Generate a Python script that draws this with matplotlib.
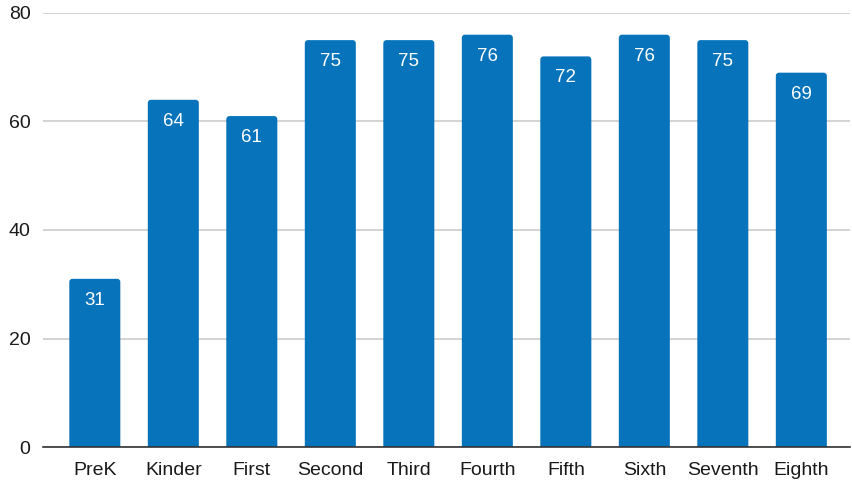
import matplotlib
matplotlib.use("Agg")
import matplotlib.pyplot as plt
from matplotlib.patches import FancyBboxPatch

categories = ["PreK", "Kinder", "First", "Second", "Third", "Fourth", "Fifth", "Sixth", "Seventh", "Eighth"]
values = [31, 64, 61, 75, 75, 76, 72, 76, 75, 69]
yticks = [0, 20, 40, 60, 80]

plt.rcParams['font.family'] = ['Liberation Sans', 'DejaVu Sans']
fig = plt.figure(figsize=(8.52, 4.82), dpi=100)
ax = fig.add_axes([43/852, 35/482, (850-43)/852, (447-13)/482])

color = "#0673BA"
ax.set_ylim(0, 80)
ax.set_xlim(-0.66, 9.62)
bars = ax.bar(range(len(categories)), values, width=0.65, color=color, zorder=3)

# rounded top corners
ax_w_px = (850 - 43)
ax_h_px = (447 - 13)
aspect = (80 / ax_h_px) / ((9.62 + 0.66) / ax_w_px)
for b in bars:
    b.set_visible(False)
    p = FancyBboxPatch((b.get_x(), -3), b.get_width(), b.get_height() + 3,
                       boxstyle="round,pad=0,rounding_size=0.04",
                       mutation_aspect=aspect, facecolor=color, edgecolor="none",
                       zorder=3, clip_on=True)
    ax.add_patch(p)

for i, v in enumerate(values):
    ax.annotate(str(v), (i, v), xytext=(0, -15.5), textcoords="offset points",
                ha="center", va="center", color="white", fontsize=13.5, zorder=4)

ax.set_yticks(yticks)
ax.set_xticks(range(len(categories)))
ax.set_xticklabels(categories)
ax.tick_params(axis="both", length=0, labelsize=14, colors="#1a1a1a")
ax.tick_params(axis="y", pad=9)
ax.tick_params(axis="x", pad=11)
ax.grid(axis="y", color="#cccccc", linewidth=1.2, zorder=0)
for s in ["top", "right", "left"]:
    ax.spines[s].set_visible(False)
ax.spines["bottom"].set_color("#333333")
ax.spines["bottom"].set_linewidth(1.2)
ax.spines["bottom"].set_zorder(5)

fig.savefig("out.png", dpi=100)
